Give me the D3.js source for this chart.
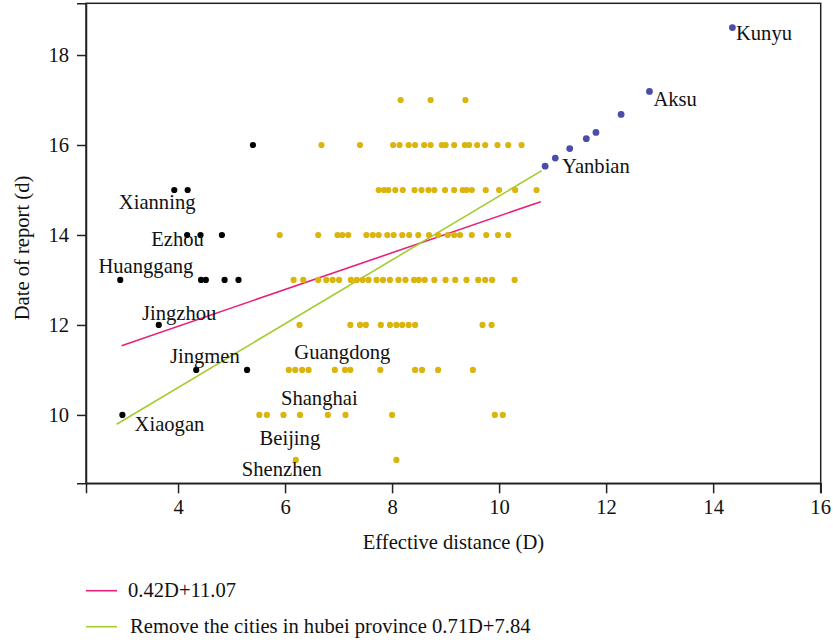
<!DOCTYPE html>
<html>
<head>
<meta charset="utf-8">
<script src="https://cdn.jsdelivr.net/npm/d3@7"></script>
<style>
  html, body { margin: 0; padding: 0; background: #fff; }
  svg text { font-family: "Liberation Serif", "DejaVu Serif", serif; fill: #111; }
</style>
</head>
<body>
<svg id="chart" width="833" height="642"></svg>
<script>
// ---------- data ----------
const xTicks = [4, 6, 8, 10, 12, 14, 16];
const yTicks = [10, 12, 14, 16, 18];

// Hubei cities (black)
const hubeiD   = [5.40, 3.93, 4.18, 4.17, 4.42, 4.82, 2.92, 4.43, 4.52, 4.87, 5.13, 3.64, 4.34, 5.29, 2.96];
const hubeiDay = [16,   15,   15,   14,   14,   14,   13,   13,   13,   13,   13,   12,   11,   11,   10];

// Other cities (yellow), grouped by report day
const otherDays = [17, 16, 15, 14, 13, 12, 11, 10, 9];
const otherDistances = [
  [8.16, 8.72, 9.37],
  [6.68, 7.40, 8.02, 8.14, 8.31, 8.43, 8.60, 8.72, 8.93, 9.00, 9.16, 9.36, 9.44, 9.59, 9.74, 9.97, 10.17, 10.42],
  [7.75, 7.85, 7.93, 8.06, 8.20, 8.42, 8.55, 8.68, 8.79, 8.99, 9.16, 9.32, 9.39, 9.49, 9.75, 10.00, 10.30, 10.70],
  [5.90, 6.62, 6.98, 7.07, 7.18, 7.52, 7.64, 7.75, 7.91, 8.03, 8.19, 8.32, 8.49, 8.69, 8.86, 9.04, 9.16, 9.27, 9.49, 9.76, 9.98, 10.17],
  [6.16, 6.34, 6.62, 6.77, 6.89, 7.01, 7.23, 7.34, 7.45, 7.56, 7.71, 7.83, 7.96, 8.12, 8.25, 8.41, 8.50, 8.61, 8.79, 9.00, 9.18, 9.39, 9.61, 9.74, 9.87, 10.29],
  [6.27, 7.22, 7.40, 7.51, 7.79, 7.96, 8.08, 8.19, 8.31, 8.43, 9.69, 9.86],
  [6.07, 6.19, 6.32, 6.44, 6.93, 7.12, 7.22, 7.78, 8.43, 8.56, 8.86, 9.51],
  [5.52, 5.66, 5.97, 6.28, 6.80, 7.13, 8.00, 9.92, 10.07],
  [6.20, 8.08]
];

// Distant cities (blue)
const farD   = [14.36, 12.81, 12.28, 11.81, 11.63, 11.32, 11.05, 10.86];
const farDay = [18.61, 17.19, 16.68, 16.28, 16.14, 15.92, 15.71, 15.53];

// Fitted lines (as drawn)
const fitNames      = ["0.42D+11.07", "Remove the cities in hubei province 0.71D+7.84"];
const fitSlope      = [0.4085, 0.7094];
const fitIntercept  = [10.337, 7.77];
const fitFrom       = [2.945, 2.852];
const fitTo         = [10.778, 10.797];
const fitColors     = ["#e8207a", "#a3cd2c"];

// City labels (text anchor in data units: centre x, baseline y)
const labelNames = ["Kunyu", "Aksu", "Yanbian", "Xianning", "Ezhou", "Huanggang", "Jingzhou", "Jingmen", "Xiaogan", "Guangdong", "Shanghai", "Beijing", "Shenzhen"];
const labelD     = [14.95, 13.29, 11.81, 3.61, 3.99, 3.40, 4.02, 4.50, 3.84, 7.07, 6.64, 6.09, 5.94];
const labelDay   = [18.33, 16.87, 15.38, 14.57, 13.75, 13.16, 12.11, 11.16, 9.64, 11.24, 10.22, 9.33, 8.64];

// ---------- chart ----------
const svg = d3.select("#chart");
const pLeft = 86, pRight = 820.7, pTop = 3.3, pBottom = 483.3;
const x = d3.scaleLinear().domain([2.28, 16.01]).range([pLeft, pRight]);
const y = d3.scaleLinear().domain([8.48, 19.15]).range([pBottom, pTop]);
const FS = "20.6px";

// frame
svg.append("rect")
  .attr("x", pLeft).attr("y", pTop)
  .attr("width", pRight - pLeft).attr("height", pBottom - pTop)
  .attr("fill", "none").attr("stroke", "#222").attr("stroke-width", 1.5);

// axes
const xAxis = svg.append("g").attr("transform", `translate(0,${pBottom})`)
  .call(d3.axisBottom(x).tickValues(xTicks).tickSize(10).tickPadding(6).tickFormat(d3.format("d")));
const yAxis = svg.append("g").attr("transform", `translate(${pLeft},0)`)
  .call(d3.axisLeft(y).tickValues(yTicks).tickSize(9).tickPadding(8).tickFormat(d3.format("d")));
[xAxis, yAxis].forEach(g => {
  g.select(".domain").attr("stroke", "#222").attr("stroke-width", 1.5);
  g.selectAll(".tick line").attr("stroke", "#222").attr("stroke-width", 1.5);
  g.selectAll(".tick text").style("font-family", '"Liberation Serif", serif').style("font-size", FS).attr("fill", "#111");
});

// axis titles
svg.append("text").attr("x", 453.5).attr("y", 549).attr("text-anchor", "middle")
  .style("font-size", FS).text("Effective distance (D)");
svg.append("text").attr("transform", "translate(29,248) rotate(-90)").attr("text-anchor", "middle")
  .style("font-size", FS).text("Date of report (d)");

// fitted lines
fitSlope.forEach((s, i) => {
  svg.append("line")
    .attr("x1", x(fitFrom[i])).attr("y1", y(s * fitFrom[i] + fitIntercept[i]))
    .attr("x2", x(fitTo[i])).attr("y2", y(s * fitTo[i] + fitIntercept[i]))
    .attr("stroke", fitColors[i]).attr("stroke-width", 1.6);
});

// points
const R = 3.1;
const otherPts = [];
otherDays.forEach((day, i) => otherDistances[i].forEach(dv => otherPts.push([dv, day])));
svg.append("g").selectAll("circle").data(otherPts).join("circle")
  .attr("cx", d => x(d[0])).attr("cy", d => y(d[1])).attr("r", R).attr("fill", "#dbb40c");
svg.append("g").selectAll("circle").data(hubeiD.map((dv, i) => [dv, hubeiDay[i]])).join("circle")
  .attr("cx", d => x(d[0])).attr("cy", d => y(d[1])).attr("r", R).attr("fill", "#000");
svg.append("g").selectAll("circle").data(farD.map((dv, i) => [dv, farDay[i]])).join("circle")
  .attr("cx", d => x(d[0])).attr("cy", d => y(d[1])).attr("r", R + 0.3).attr("fill", "#4b4daa");

// labels
svg.append("g").selectAll("text").data(labelNames).join("text")
  .attr("x", (d, i) => x(labelD[i])).attr("y", (d, i) => y(labelDay[i]))
  .attr("text-anchor", "middle").style("font-size", FS).text(d => d);

// legend
const legY = [590.7, 626.7];
fitNames.forEach((name, i) => {
  svg.append("line").attr("x1", 86).attr("x2", 117).attr("y1", legY[i]).attr("y2", legY[i])
    .attr("stroke", fitColors[i]).attr("stroke-width", 1.6);
  svg.append("text").attr("x", 128 + i * 2).attr("y", legY[i] + 6.5)
    .style("font-size", FS).text(name);
});
</script>
</body>
</html>
